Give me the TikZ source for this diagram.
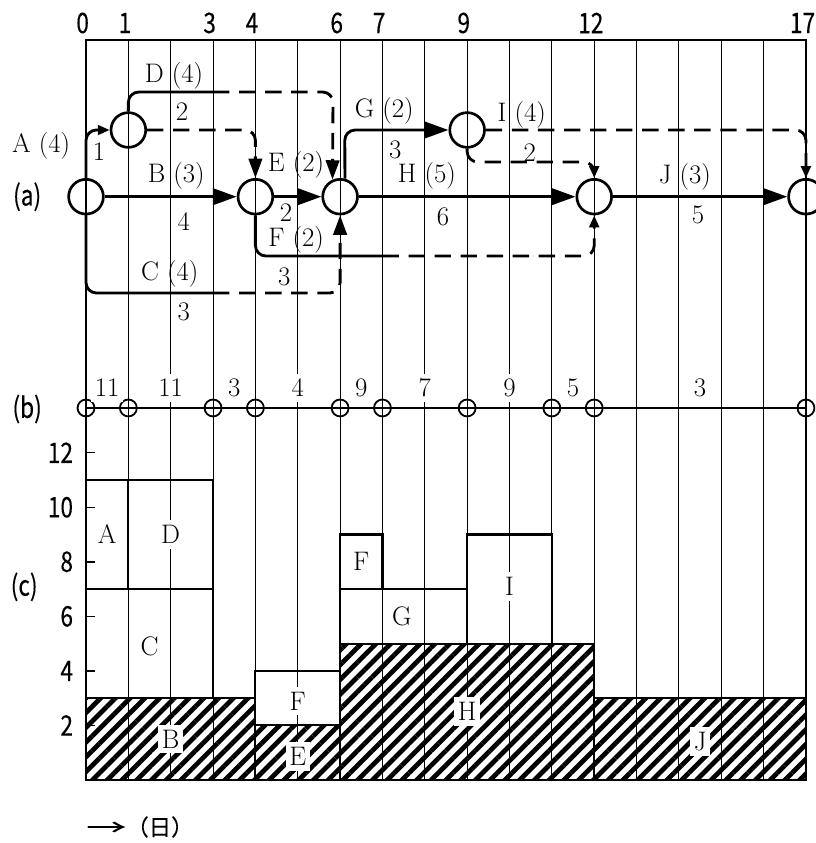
\documentclass[tikz,border=0pt]{standalone}
\usepackage{fontspec}
\newfontfamily\gothic[FakeStretch=0.8,FakeBold=0.25]{Noto Sans CJK JP}
\newfontfamily\jpfont[FakeBold=0.25]{Noto Sans CJK JP}
\usetikzlibrary{arrows.meta,patterns.meta}

\begin{document}
\begin{tikzpicture}[x=1cm,y=1cm,
  gridline/.style={line width=0.6pt},
  frame/.style={line width=1.4pt},
  act/.style={line width=1.9pt, rounded corners=7pt},
  slack/.style={act, dash pattern=on 11pt off 6.5pt},
  bigtip/.style={-{Triangle[length=16pt,width=11pt]}},
  midtip/.style={-{Triangle[length=13pt,width=9pt]}},
  smalltip/.style={-{Triangle[length=8pt,width=6.5pt]}},
  evt/.style={circle, draw, line width=1.8pt, minimum size=0.82cm, inner sep=0pt},
  lab/.style={font=\fontsize{18}{21}\selectfont, inner sep=0pt},
  wlab/.style={font=\fontsize{18}{21}\selectfont, fill=white, inner xsep=2.5pt, inner ysep=3.5pt},
  glab/.style={font=\gothic\fontsize{19}{22}\selectfont, inner sep=0pt},
  hatch/.style={pattern={Lines[angle=45,distance=7pt,line width=3.2pt]}},
  box/.style={line width=1.4pt}]

% Hoehen
\def\yTop{17.473}
\def\yNum{17.875}
\def\yMain{13.773}
\def\yUp{15.348}
\def\yD{16.245}
\def\yIl{14.593}
\def\yF{12.373}
\def\yC{11.499}
\def\yB{8.784}
\def\yBlab{9.256}
\def\wy{0.644}

\useasboundingbox (-2.031,-1.488) rectangle (17.237,18.418);
\clip (-2.031,-1.488) rectangle (17.237,18.418);

% ------------------- Schraffur (kritisch) -------------------
\path[hatch] (0,0) rectangle (4,3*\wy);
\path[hatch] (4,0) rectangle (6,2*\wy);
\path[hatch] (6,0) rectangle (12,5*\wy);
\path[hatch] (12,0) rectangle (17,3*\wy);

% ------------------- Raster -------------------
\foreach \d in {1,...,16}
  \draw[gridline] (\d,0) -- (\d,\yTop);
\draw[frame] (0,0) -- (0,\yTop) -- (17,\yTop) -- (17,0);

\foreach \d in {0,1,3,4,6,7,9,12,17}
  \node[glab] at (\d-0.08,\yNum) {\d};

\node[glab] at (-1.39,\yMain) {(a)};
\node[glab] at (-1.39,8.76) {(b)};
\node[glab] at (-1.46,4.56) {(c)};

% ------------------- (c) Belastung -------------------
\foreach \v in {2,4,...,12}{
  \draw[line width=1pt] (0,\v*\wy) -- (0.21,\v*\wy);
  \node[glab, anchor=east] at (-0.3,\v*\wy) {\v};
}

\foreach \a/\b/\c/\e in {0/0/4/3, 4/0/6/2, 6/0/12/5, 12/0/17/3, 0/3/3/7,
    0/7/1/11, 1/7/3/11, 4/2/6/4, 6/5/9/7, 6/7/7/9, 9/5/11/9}
  \draw[box] (\a,\b*\wy) rectangle (\c,\e*\wy);

\foreach \x/\v/\t in {0.5/9/A, 2/9/D, 1.5/4.9/C, 2/1.5/B, 5/2.9/F, 5/0.85/E,
    6.5/8/F, 7.46/6/G, 10/7.1/I, 9/2.5/H, 14.5/1.4/J}
  \node[wlab] at (\x,\v*\wy) {\t};

\node[font=\jpfont\fontsize{15}{18}\selectfont, anchor=west, inner sep=0pt] at (0,-1.11) {\scalebox{1.8}[1]{→}（日）};

% ------------------- (b) Summen -------------------
\draw[line width=1pt] (0,\yB) -- (17,\yB);
\foreach \d in {0,1,3,4,6,7,9,11,12,17}
  \draw[line width=1.2pt] (\d,\yB) circle (0.2);
\foreach \x/\v in {0.5/11, 2/11, 3.5/3, 5/4, 6.5/9, 8/7, 10/9, 11.5/5, 14.5/3}
  \node[wlab] at (\x,\yBlab) {\v};

% ------------------- (a) Netzplan -------------------
\node[evt] (n0) at (0,\yMain) {};
\node[evt] (n1) at (1,\yUp) {};
\node[evt] (n4) at (4,\yMain) {};
\node[evt] (n6) at (6,\yMain) {};
\node[evt] (n9) at (9,\yUp) {};
\node[evt] (n12) at (12,\yMain) {};
\node[evt] (n17) at (17,\yMain) {};

% Vorgaenge
\draw[act, smalltip] (n0.north) -- (0,\yUp) -- (n1.west);
\draw[act] (n1.north) -- (1,\yD) -- (3,\yD);
\draw[slack, midtip] (3,\yD) -- (5.833,\yD) -- (n6.114);
\draw[slack, midtip] (n1.east) -- (4,\yUp) -- (n4.north);
\draw[act, bigtip] (n0.east) -- (n4.west);
\draw[act] (n0.south) -- (0,\yC) -- (3,\yC);
\draw[slack, midtip] (3,\yC) -- (6,\yC) -- (n6.south);
\draw[act, bigtip] (n4.east) -- (n6.west);
\draw[act] (n4.south) -- (4,\yF) -- (7,\yF);
\draw[slack, smalltip] (7,\yF) -- (12,\yF) -- (n12.south);
\draw[act, bigtip] (n6.75) -- (6.11,\yUp) -- (n9.west);
\draw[act, bigtip] (n6.east) -- (n12.west);
\draw[slack, smalltip] (n9.east) -- (17,\yUp) -- (n17.north);
\draw[slack, smalltip] (n9.south) -- (9,\yIl) -- (12,\yIl) -- (n12.north);
\draw[act, bigtip] (n12.east) -- (n17.west);

% Beschriftung
\node[lab] at (-1.06,14.97) {A (4)};
\node[lab] at (0.31,14.83) {1};
\node[lab] at (2.08,16.62) {D (4)};
\node[lab] at (2.27,15.77) {2};
\node[lab] at (2.13,14.26) {B (3)};
\node[lab] at (2.31,13.18) {4};
\node[lab] at (1.98,11.95) {C (4)};
\node[lab] at (2.31,11.05) {3};
\node[lab] at (4.96,14.52) {E (2)};
\node[lab] at (4.72,13.39) {2};
\node[lab] at (4.96,12.75) {F (2)};
\node[lab] at (4.68,11.88) {3};
\node[lab] at (7.04,15.80) {G (2)};
\node[lab] at (7.30,14.88) {3};
\node[lab] at (8.05,14.26) {H (5)};
\node[lab] at (8.43,13.29) {6};
\node[lab] at (10.29,15.70) {I (4)};
\node[lab] at (10.48,14.81) {2};
\node[lab] at (14.14,14.24) {J (3)};
\node[lab] at (14.45,13.34) {5};

\end{tikzpicture}
\end{document}
